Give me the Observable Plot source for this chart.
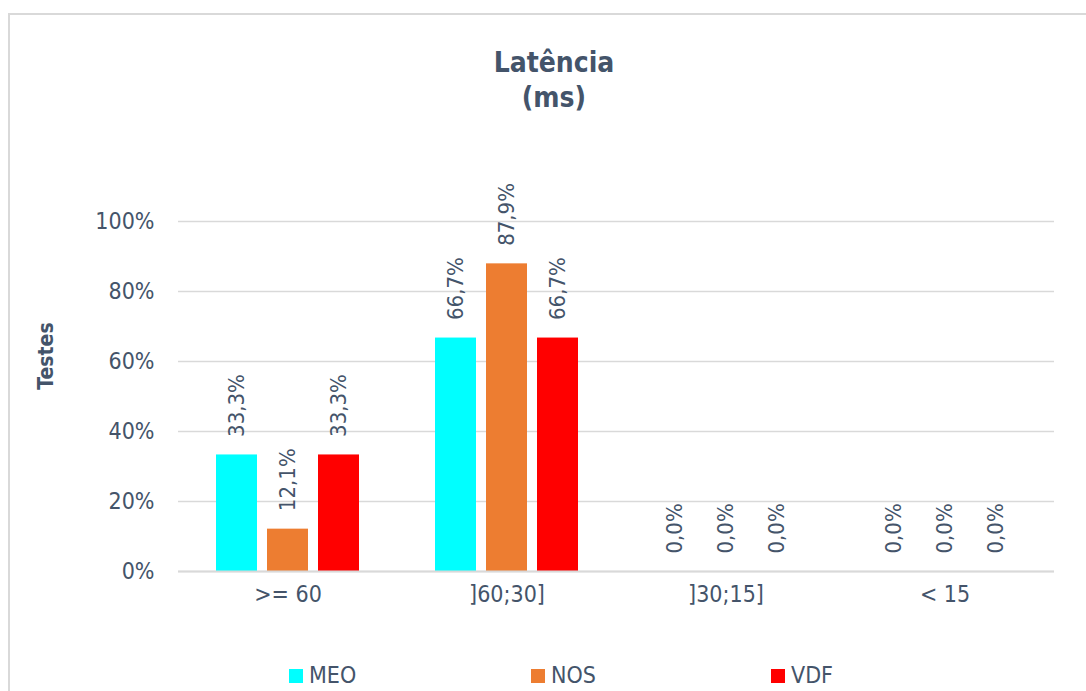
<!DOCTYPE html>
<html>
<head>
<meta charset="utf-8">
<script src="https://cdn.jsdelivr.net/npm/d3@7"></script>
<script src="https://cdn.jsdelivr.net/npm/@observablehq/plot@0.6"></script>
<style>
  html, body { margin: 0; padding: 0; background: #fff; }
  body { width: 1086px; height: 691px; position: relative; overflow: hidden;
         font-family: "Liberation Sans Narrow", "Arial Narrow", "DejaVu Sans Condensed", sans-serif; color: #44546A; }
  #frame { position: absolute; left: 8px; top: 13px; width: 1200px; height: 800px; border: 2px solid #d9d9d9; box-sizing: border-box; }
  #title { position: absolute; left: 454px; width: 200px; top: 45px; text-align: center; font-weight: bold; font-size: 28px; line-height: 35px; }
  #ylabel { position: absolute; left: 46px; top: 356px; transform: translate(-50%, -50%) rotate(-90deg); font-weight: bold; font-size: 21px; white-space: nowrap; }
  #chart { position: absolute; left: 0; top: 140px; }
  .leg { position: absolute; top: 661px; font-size: 23px; line-height: 28px; white-space: nowrap; }
  .leg span.sw { display: inline-block; width: 14px; height: 14px; margin-right: 6px; vertical-align: 0px; }
</style>
</head>
<body>
<div id="frame"></div>
<div id="title">Latência<br>(ms)</div>
<div id="ylabel">Testes</div>
<div id="chart"></div>
<div id="legend"></div>
<script>
const categories = [">= 60", "]60;30]", "]30;15]", "< 15"];
const series = ["MEO", "NOS", "VDF"];
const colors = ["#00FFFF", "#ED7D31", "#FF0000"];
const meo = [0.333, 0.667, 0, 0];
const nos = [0.121, 0.879, 0, 0];
const vdf = [0.333, 0.667, 0, 0];
const yTicks = [0, 0.2, 0.4, 0.6, 0.8, 1.0];

const values = {MEO: meo, NOS: nos, VDF: vdf};
const data = [];
categories.forEach((c, i) => series.forEach(s => data.push({category: c, series: s, value: values[s][i]})));

const fmt = v => (v * 100).toFixed(1).replace(".", ",") + "%";
const font = '"Liberation Sans Narrow", "Arial Narrow", "DejaVu Sans Condensed", sans-serif';

const chart = Plot.plot({
  width: 1086,
  height: 480,
  marginLeft: 178,
  marginRight: 32,
  marginTop: 81,
  marginBottom: 49,
  style: {fontFamily: font, fontSize: "23px", color: "#44546A", background: "transparent", overflow: "visible"},
  fx: {domain: categories, padding: 0, label: null, axis: null},
  x: {domain: series, paddingInner: 0.2, paddingOuter: 0.726, axis: null},
  y: {domain: [0, 1], label: null},
  color: {domain: series, range: colors},
  marks: [
    Plot.gridY(yTicks, {stroke: "#d9d9d9", strokeOpacity: 1, strokeWidth: 1.5}),
    Plot.axisY(yTicks, {tickSize: 0, tickPadding: 24, tickFormat: d => Math.round(d * 100) + "%", label: null, fill: "#44546A"}),
    Plot.axisFx({anchor: "bottom", tickSize: 0, tickPadding: 14, label: null, fill: "#44546A"}),
    Plot.barY(data, {fx: "category", x: "series", y: "value", fill: "series"}),
    Plot.ruleY([0], {stroke: "#d9d9d9", strokeWidth: 2}),
    Plot.text(data, {fx: "category", x: "series", y: "value", text: d => fmt(d.value), rotate: -90, textAnchor: "start", dy: -18, fill: "#44546A", fontSize: 22})
  ]
});
document.getElementById("chart").appendChild(chart);

const legendX = [289, 531, 771];
const legend = document.getElementById("legend");
series.forEach((s, i) => {
  const d = document.createElement("div");
  d.className = "leg";
  d.style.left = legendX[i] + "px";
  d.innerHTML = `<span class="sw" style="background:${colors[i]}"></span>${s}`;
  legend.appendChild(d);
});
</script>
</body>
</html>
